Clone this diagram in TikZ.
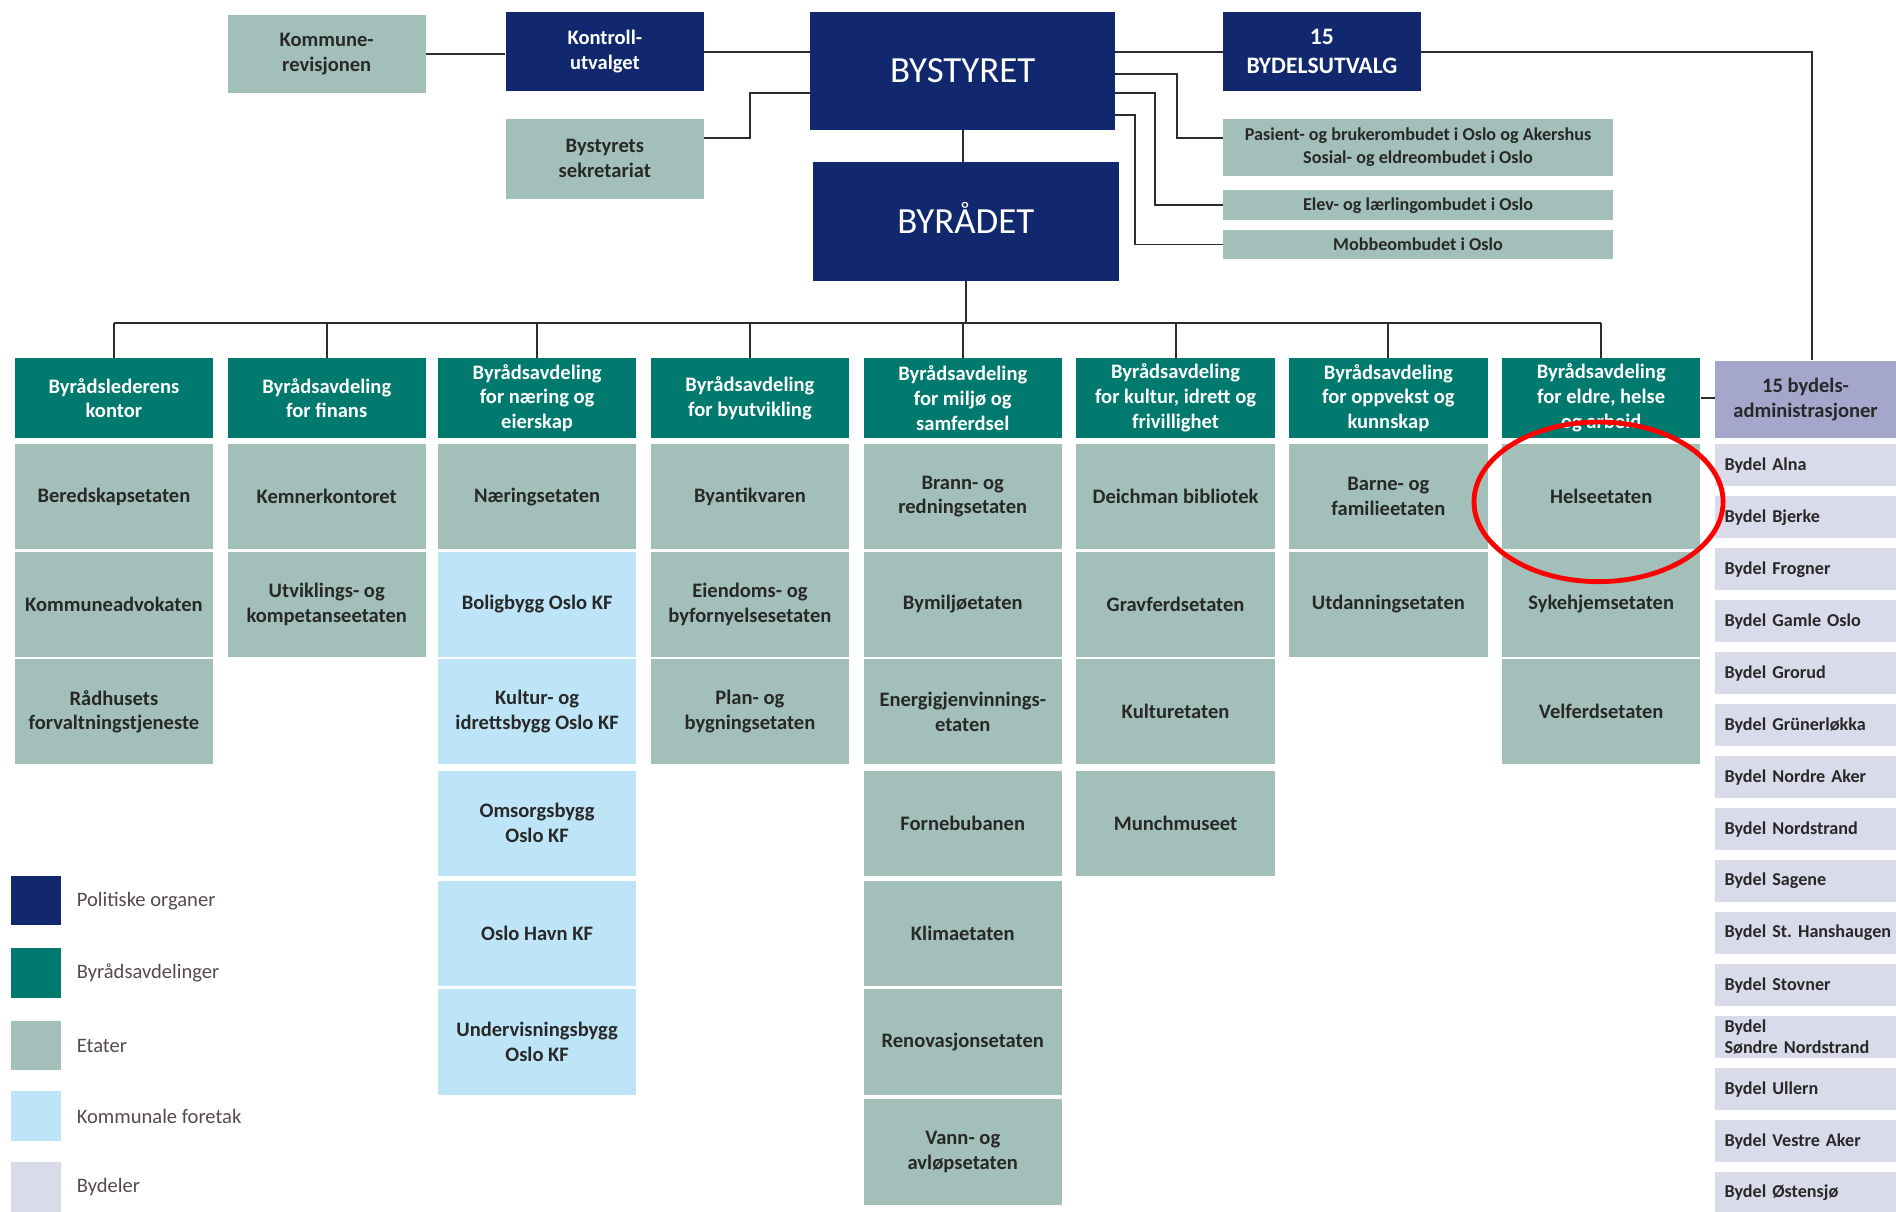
\documentclass[tikz,border=0pt]{standalone}
\usepackage{fontspec}
\setmainfont{Carlito}
\usetikzlibrary{calc}
\frenchspacing
\definecolor{cNavy}{RGB}{17,40,110}
\definecolor{cTeal}{RGB}{0,122,110}
\definecolor{cEtat}{RGB}{162,192,185}
\definecolor{cKF}{RGB}{190,229,247}
\definecolor{cBydel}{RGB}{217,218,234}
\definecolor{cBydelH}{RGB}{164,166,204}
\definecolor{cTxt}{RGB}{40,40,40}
\definecolor{cLine}{RGB}{45,45,45}
\definecolor{cLeg}{RGB}{85,75,75}
\tikzset{
  box/.style={anchor=north west, inner sep=2pt, align=center, text=cTxt,
    font=\bfseries\fontsize{17}{20.5}\selectfont},
  pol/.style={box, fill=cNavy, text=white},
  dep/.style={box, fill=cTeal, text=white, minimum width=164pt, minimum height=66pt},
  et/.style={box, fill=cEtat, minimum width=164pt, minimum height=87pt},
  kf/.style={et, fill=cKF},
  omb/.style={box, fill=cEtat, minimum width=323pt, font=\bfseries\fontsize{15}{19.5}\selectfont},
  byd/.style={anchor=north west, fill=cBydel, minimum height=35pt, inner xsep=8pt, inner ysep=1pt,
    text width=150pt, align=left, text=cTxt, font=\bfseries\fontsize{15}{17}\selectfont},
  leg/.style={anchor=north west, minimum width=41pt, minimum height=41pt, inner sep=0pt},
  legt/.style={anchor=west, text=cLeg, font=\fontsize{17}{20}\selectfont},
  conn/.style={draw=cLine, line width=1.6pt},
}
\begin{document}
\begin{tikzpicture}[x=1pt,y=-1pt]
\useasboundingbox (0,0) rectangle (1568,1002);
\fill[white] (0,0) rectangle (1568,1002);

% top level
\node[box, fill=cEtat, minimum width=164pt, minimum height=65pt] (kr) at (188,12) {Kommune-\\revisjonen};
\node[pol, minimum width=164pt, minimum height=65pt] (ku) at (418,10) {Kontroll-\\utvalget};
\node[pol, minimum width=252pt, minimum height=97pt, font=\fontsize{30.5}{33}\selectfont] (bs) at (670,10) {BYSTYRET};
\node[pol, minimum width=164pt, minimum height=65pt, font=\bfseries\fontsize{19.5}{23.5}\selectfont] (bu) at (1011,10) {15\\BYDELSUTVALG};
\node[box, fill=cEtat, minimum width=164pt, minimum height=66pt] (sek) at (418,98) {Bystyrets\\sekretariat};
\node[pol, minimum width=253pt, minimum height=98pt, font=\fontsize{30.5}{33}\selectfont] (br) at (672,134) {BYR\smash{Å}DET};
\node[omb, minimum height=47pt] (pas) at (1011,98) {Pasient- og brukerombudet i Oslo og Akershus\\Sosial- og eldreombudet i Oslo};
\node[omb, minimum height=25pt] (elev) at (1011,157) {Elev- og lærlingombudet i Oslo};
\node[omb, minimum height=24pt] (mob) at (1011,190) {Mobbeombudet i Oslo};

% department headers
\node[dep] (h1) at (12,296) {Byrådslederens\\kontor};
\node[dep] (h2) at (188,296) {Byrådsavdeling\\for finans};
\node[dep] (h3) at (362,296) {Byrådsavdeling\\for næring og\\eierskap};
\node[dep] (h4) at (538,296) {Byrådsavdeling\\for byutvikling};
\node[dep] (h5) at (714,296) {Byrådsavdeling\\for miljø og\\samferdsel};
\node[dep] (h6) at (890,296) {Byrådsavdeling\\for kultur, idrett og\\frivillighet};
\node[dep] (h7) at (1066,296) {Byrådsavdeling\\for oppvekst og\\kunnskap};
\node[dep] (h8) at (1242,296) {Byrådsavdeling\\for eldre, helse\\og arbeid};
\node[box, fill=cBydelH, minimum width=150pt, minimum height=64pt] (bh) at (1418,298) {15 bydels-\\administrasjoner};

% column 1
\node[et] (c1a) at (12,367) {Beredskapsetaten};
\node[et] (c1b) at (12,456) {Kommuneadvokaten};
\node[et] (c1c) at (12,545) {Rådhusets\\forvaltningstjeneste};
% column 2
\node[et] (c2a) at (188,367) {Kemnerkontoret};
\node[et] (c2b) at (188,456) {Utviklings- og\\kompetanseetaten};
% column 3
\node[et] (c3a) at (362,367) {Næringsetaten};
\node[kf] (c3b) at (362,456) {Boligbygg Oslo KF};
\node[kf] (c3c) at (362,545) {Kultur- og\\idrettsbygg Oslo KF};
\node[kf] (c3d) at (362,637) {Omsorgsbygg\\Oslo KF};
\node[kf] (c3e) at (362,728) {Oslo Havn KF};
\node[kf] (c3f) at (362,818) {Undervisningsbygg\\Oslo KF};
% column 4
\node[et] (c4a) at (538,367) {Byantikvaren};
\node[et] (c4b) at (538,456) {Eiendoms- og\\byfornyelsesetaten};
\node[et] (c4c) at (538,545) {Plan- og\\bygningsetaten};
% column 5
\node[et] (c5a) at (714,367) {Brann- og\\redningsetaten};
\node[et] (c5b) at (714,456) {Bymiljøetaten};
\node[et] (c5c) at (714,545) {Energigjenvinnings-\\etaten};
\node[et] (c5d) at (714,637) {Fornebubanen};
\node[et] (c5e) at (714,728) {Klimaetaten};
\node[et] (c5f) at (714,818) {Renovasjonsetaten};
\node[et] (c5g) at (714,909) {Vann- og\\avløpsetaten};
% column 6
\node[et] (c6a) at (890,367) {Deichman bibliotek};
\node[et] (c6b) at (890,456) {Gravferdsetaten};
\node[et] (c6c) at (890,545) {Kulturetaten};
\node[et] (c6d) at (890,637) {Munchmuseet};
% column 7
\node[et] (c7a) at (1066,367) {Barne- og\\familieetaten};
\node[et] (c7b) at (1066,456) {Utdanningsetaten};
% column 8
\node[et] (c8a) at (1242,367) {Helseetaten};
\node[et] (c8b) at (1242,456) {Sykehjemsetaten};
\node[et] (c8c) at (1242,545) {Velferdsetaten};

% bydeler
\node[byd] (b1) at (1418,367) {Bydel Alna};
\node[byd] (b2) at (1418,410) {Bydel Bjerke};
\node[byd] (b3) at (1418,453) {Bydel Frogner};
\node[byd] (b4) at (1418,496) {Bydel Gamle Oslo};
\node[byd] (b5) at (1418,539) {Bydel Grorud};
\node[byd] (b6) at (1418,582) {Bydel Grünerløkka};
\node[byd] (b7) at (1418,625) {Bydel Nordre Aker};
\node[byd] (b8) at (1418,668) {Bydel Nordstrand};
\node[byd] (b9) at (1418,711) {Bydel Sagene};
\node[byd] (b10) at (1418,754) {Bydel St. Hanshaugen};
\node[byd] (b11) at (1418,797) {Bydel Stovner};
\node[byd] (b12) at (1418,840) {Bydel\\Søndre Nordstrand};
\node[byd] (b13) at (1418,883) {Bydel Ullern};
\node[byd] (b14) at (1418,926) {Bydel Vestre Aker};
\node[byd] (b15) at (1418,969) {Bydel Østensjø};

% legend
\node[leg, fill=cNavy] (l1) at (9,724) {};
\node[leg, fill=cTeal] (l2) at (9,784) {};
\node[leg, fill=cEtat] (l3) at (9,844) {};
\node[leg, fill=cKF] (l4) at (9,902) {};
\node[leg, fill=cBydel] (l5) at (9,961) {};
\node[legt] (t1) at (60,745) {Politiske organer};
\node[legt] (t2) at (60,805) {Byrådsavdelinger};
\node[legt] (t3) at (60,865) {Etater};
\node[legt] (t4) at (60,923) {Kommunale foretak};
\node[legt] (t5) at (60,982) {Bydeler};

% connectors
\draw[conn] (kr.east) -- (kr.east -| ku.west);
\draw[conn] (ku.east) -- (ku.east -| bs.west);
\draw[conn] (bs.east |- bu.west) -- (bu.west);
\draw[conn] (bu.east) -| ([xshift=5pt]bh.north);
\draw[conn] ([yshift=17pt]sek.east) -- ++(38,0) |- ([yshift=-18.5pt]bs.west);
\draw[conn] ([yshift=-2.5pt]bs.east) -- ++(51,0) |- ([yshift=7.5pt]pas.west);
\draw[conn] ([yshift=-18.5pt]bs.east) -- ++(33,0) |- (elev.west);
\draw[conn] ([yshift=-36.5pt]bs.east) -- ++(16,0) |- (mob.west);
\draw[conn] (bs.south) -- (bs.south |- br.north);
\draw[conn] (br.south) -- ++(0,35) coordinate (busc);
\draw[conn] (busc -| h1.north) -- (busc -| h8.north);
\foreach \i in {1,...,8} {\draw[conn] (busc -| h\i.north) -- (h\i.north);}
\draw[conn] (h8.east) -- (h8.east -| bh.west);

% highlight
\draw[red, line width=4pt] (1322,415) ellipse [x radius=103, y radius=66];
\end{tikzpicture}
\end{document}
